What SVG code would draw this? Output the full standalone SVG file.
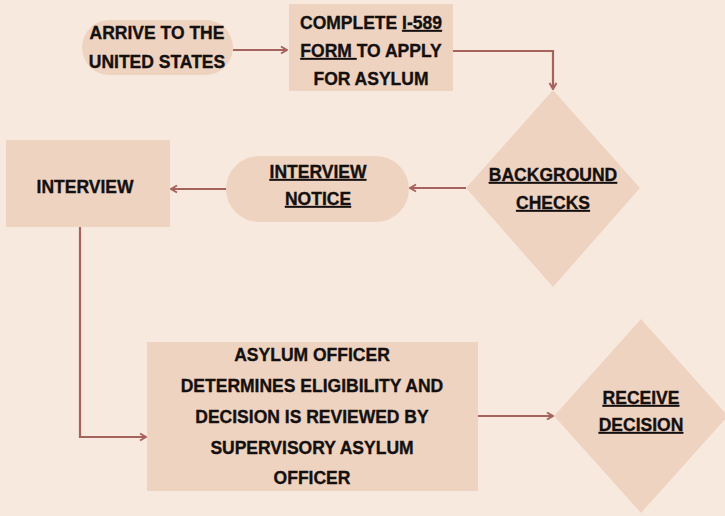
<svg xmlns="http://www.w3.org/2000/svg" width="725" height="516" viewBox="0 0 725 516">
<style>
.n{fill:#efd3c1;}
.t{font-family:"Liberation Sans",Arial,sans-serif;font-weight:bold;font-size:17.5px;fill:#141010;stroke:#141010;stroke-width:0.35;text-anchor:middle;}
.u{text-decoration:underline;}
.c{fill:none;stroke:#a6625d;stroke-width:2.2;}
</style>
<defs>
<marker id="ah" viewBox="0 0 10 10" refX="9" refY="5" markerWidth="10" markerHeight="10" markerUnits="userSpaceOnUse" orient="auto">
<path d="M3,1.5 L9,5 L3,8.5" fill="none" stroke="#a6625d" stroke-width="2"/>
</marker>
</defs>
<rect width="725" height="516" fill="#f8e9df"/>
<g id="connectors">
<path class="c" d="M233,50 H287" marker-end="url(#ah)"/>
<path class="c" d="M453,51 H553 V89" marker-end="url(#ah)"/>
<path class="c" d="M466,188 H410" marker-end="url(#ah)"/>
<path class="c" d="M226,189 H171" marker-end="url(#ah)"/>
<path class="c" d="M80,227 V437 H146" marker-end="url(#ah)"/>
<path class="c" d="M478,416 H553" marker-end="url(#ah)"/>
</g>
<g id="arrive">
<rect class="n" x="82" y="20" width="151" height="55" rx="27.5"/>
<text class="t" x="157" y="39">ARRIVE TO THE</text>
<text class="t" x="157" y="68">UNITED STATES</text>
</g>
<g id="complete">
<rect class="n" x="289" y="4" width="164" height="87"/>
<text class="t" x="371" y="29">COMPLETE <tspan class="u">I-589</tspan></text>
<text class="t" x="371" y="57"><tspan class="u">FORM </tspan>TO APPLY</text>
<text class="t" x="371" y="85">FOR ASYLUM</text>
</g>
<g id="background">
<polygon class="n" points="553,90 640,188 553,287 466,188"/>
<text class="t u" x="553" y="181">BACKGROUND</text>
<text class="t u" x="553" y="209">CHECKS</text>
</g>
<g id="notice">
<rect class="n" x="226" y="156" width="183" height="66" rx="33"/>
<text class="t u" x="318" y="178">INTERVIEW</text>
<text class="t u" x="318" y="205">NOTICE</text>
</g>
<g id="interview">
<rect class="n" x="6" y="140" width="164" height="87"/>
<text class="t" x="85" y="193">INTERVIEW</text>
</g>
<g id="officer">
<rect class="n" x="147" y="342" width="331" height="149"/>
<text class="t" x="312" y="361">ASYLUM OFFICER</text>
<text class="t" x="312" y="392">DETERMINES ELIGIBILITY AND</text>
<text class="t" x="312" y="423">DECISION IS REVIEWED BY</text>
<text class="t" x="312" y="454">SUPERVISORY ASYLUM</text>
<text class="t" x="312" y="484">OFFICER</text>
</g>
<g id="receive">
<polygon class="n" points="641,319 728,416 641,513 554,416"/>
<text class="t u" x="641" y="404">RECEIVE</text>
<text class="t u" x="641" y="431">DECISION</text>
</g>
</svg>
